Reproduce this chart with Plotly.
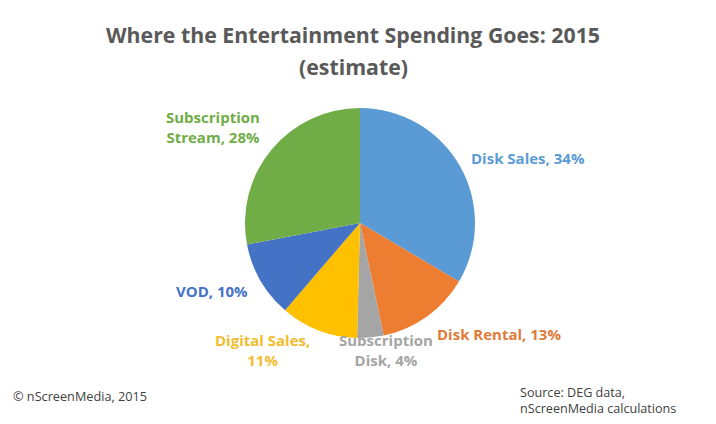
import plotly.graph_objects as go

categories = ["Disk Sales", "Disk Rental", "Subscription Disk", "Digital Sales", "VOD", "Subscription Stream"]
# slice sizes as measured on the picture, the labels below carry the rounded numbers
shares = [33.5, 13.2, 3.7, 10.9, 10.7, 28.0]
colors = ["#5B9BD5", "#ED7D31", "#A5A5A5", "#FFC000", "#4472C4", "#70AD47"]
label_text = ["Disk Sales, 34%", "Disk Rental, 13%", "Subscription<br>Disk, 4%", "Digital Sales,<br>11%", "VOD, 10%", "Subscription<br>Stream, 28%"]
label_colors = ["#5B9BD5", "#E07B3A", "#A5A5A5", "#F2BC2E", "#4472C4", "#70AD47"]
label_x = [528, 499, 386, 262, 212, 213]
label_y = [158, 334, 349.5, 350, 291, 127.5]
title_lines = ["Where the Entertainment Spending Goes: 2015", "(estimate)"]
title_y = [34, 66]

W, H = 716, 424
FONT = "Open Sans"

fig = go.Figure(go.Pie(
    labels=categories,
    values=shares,
    sort=False,
    direction="clockwise",
    rotation=0,
    textinfo="none",
    hoverinfo="label+percent",
    marker=dict(colors=colors, line=dict(width=0)),
    domain=dict(x=[245 / W, 475 / W], y=[1 - 338 / H, 1 - 108 / H]),
    showlegend=False,
))

# labels sit where the original put them, not where plotly would
for txt, col, x, y in zip(label_text, label_colors, label_x, label_y):
    fig.add_annotation(text=f"<b>{txt}</b>", x=x / W, y=1 - y / H, xref="paper", yref="paper",
                       showarrow=False, align="center", xanchor="center", yanchor="middle",
                       font=dict(family=FONT, size=15, color=col))

for line, y in zip(title_lines, title_y):
    fig.add_annotation(text=f"<b>{line}</b>", x=353 / W, y=1 - y / H, xref="paper", yref="paper",
                       showarrow=False, xanchor="center", yanchor="middle",
                       font=dict(family=FONT, size=21.3, color="#595959"))

fig.add_annotation(text="© nScreenMedia, 2015", x=11 / W, y=1 - 396 / H, xref="paper", yref="paper",
                   showarrow=False, xanchor="left", yanchor="middle",
                   font=dict(family=FONT, size=12.7, color="#404040"))
fig.add_annotation(text="Source: DEG data,<br>nScreenMedia calculations", x=518 / W, y=1 - 400.5 / H,
                   xref="paper", yref="paper", showarrow=False, align="left", xanchor="left",
                   yanchor="middle", font=dict(family=FONT, size=12.6, color="#404040"))

fig.update_layout(width=W, height=H, margin=dict(l=0, r=0, t=0, b=0),
                  paper_bgcolor="white", plot_bgcolor="white")

# the browser's default body margin pushes the figure 8px off
fig.write_html("out.html", config=dict(displayModeBar=False),
               post_script="document.body.style.margin='0';document.body.style.overflow='hidden';")
